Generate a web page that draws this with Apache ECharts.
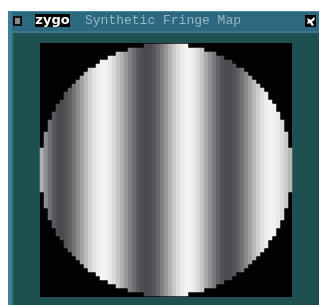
<!DOCTYPE html>
<html>
<head>
<meta charset="utf-8">
<script src="https://cdn.jsdelivr.net/npm/echarts@6/dist/echarts.min.js"></script>
<style>
html,body{margin:0;padding:0;background:#fff;}
#c{width:319px;height:305px;}
</style>
</head>
<body>
<div id="c"></div>
<script>
// Window title
var windowTitle = 'Synthetic Fringe Map';
var brandLabel = 'zygo';
// Intensity (0-255 grey level) across the aperture, one value per column, left to right
var fringeIntensity = [
  170, 137, 107, 84, 72,
  71, 78, 92, 110, 133, 157, 181, 203, 220, 232, 238,
  236, 228, 213, 194, 172, 148, 125, 104, 87, 75, 70,
  72, 82, 98, 120, 144, 170, 194, 214, 229, 237,
  237, 229, 213, 192, 167, 141, 116, 95, 79, 71,
  71, 78, 90, 109, 130, 154, 178, 199, 218, 230, 237,
  237, 230, 215, 198, 178
];
// Number of rows in the map (square aperture grid)
var rowCount = 63;
// Aperture radius, in cells
var apertureRadius = 31.5;

var cols = fringeIntensity.map(function(_, i){ return i; });
var rows = [];
for (var r = 0; r < rowCount; r++) rows.push(r);

var cellData = [];
var cx = (fringeIntensity.length - 1) / 2, cy = (rowCount - 1) / 2;
for (var i = 0; i < fringeIntensity.length; i++) {
  for (var j = 0; j < rowCount; j++) {
    var dx = i - cx, dy = j - cy;
    if (dx * dx + dy * dy <= apertureRadius * apertureRadius) {
      cellData.push([i, j, fringeIntensity[i]]);
    }
  }
}

var chart = echarts.init(document.getElementById('c'), null, {renderer: 'canvas'});
chart.setOption({
  animation: false,
  backgroundColor: '#ffffff',
  grid: {left: 40, top: 44, width: 252, height: 252, show: false},
  xAxis: {type: 'category', data: cols, show: false},
  yAxis: {type: 'category', data: rows, show: false, inverse: true},
  visualMap: {
    show: false, type: 'continuous', min: 70, max: 238, dimension: 2,
    inRange: {color: ['#4a4a4e', '#f5f3f1']}
  },
  graphic: [
    // window frame
    {type: 'rect', shape: {x: 8, y: 11, width: 311, height: 294}, style: {fill: '#1e5052'}, silent: true},
    {type: 'rect', shape: {x: 8, y: 11, width: 311, height: 20}, style: {fill: '#2c6880'}, silent: true},
    {type: 'rect', shape: {x: 8, y: 11, width: 311, height: 1}, style: {fill: '#4a8aa6'}, silent: true},
    {type: 'rect', shape: {x: 8, y: 31, width: 311, height: 2}, style: {fill: '#3a7889'}, silent: true},
    {type: 'rect', shape: {x: 8, y: 11, width: 4, height: 294}, style: {fill: '#3f7f9c'}, silent: true},
    {type: 'rect', shape: {x: 12, y: 33, width: 2, height: 272}, style: {fill: '#2a6466'}, silent: true},
    // left icon
    {type: 'rect', shape: {x: 13, y: 16, width: 9, height: 10}, style: {fill: '#111'}, silent: true},
    {type: 'rect', shape: {x: 15, y: 18, width: 5, height: 6}, style: {fill: '#8a8a8a'}, silent: true},
    // brand label
    {type: 'rect', shape: {x: 35, y: 14, width: 35, height: 13}, style: {fill: '#050505'}, silent: true},
    {type: 'text', x: 52.5, y: 20.5, style: {text: brandLabel, fill: '#ffffff', font: 'bold 13px "DejaVu Sans"', textAlign: 'center', textVerticalAlign: 'middle'}, silent: true},
    // title
    {type: 'text', x: 85, y: 21, style: {text: windowTitle, fill: '#93b6c4', font: '13px "Liberation Mono"', textAlign: 'left', textVerticalAlign: 'middle'}, silent: true},
    // right icon
    {type: 'rect', shape: {x: 305, y: 15, width: 11, height: 12}, style: {fill: '#050505'}, silent: true},
    {type: 'polygon', shape: {points: [[307,18],[311,20],[314,17],[315,19],[312,22],[314,25],[312,26],[310,23],[307,24],[308,21]]}, style: {fill: '#ffffff'}, silent: true},
    // black map area
    {type: 'rect', shape: {x: 40, y: 43, width: 252, height: 254}, style: {fill: '#020202'}, silent: true}
  ],
  series: [{
    type: 'heatmap',
    data: cellData,
    emphasis: {disabled: true},
    itemStyle: {borderWidth: 0},
    progressive: 0
  }]
});
</script>
</body>
</html>
